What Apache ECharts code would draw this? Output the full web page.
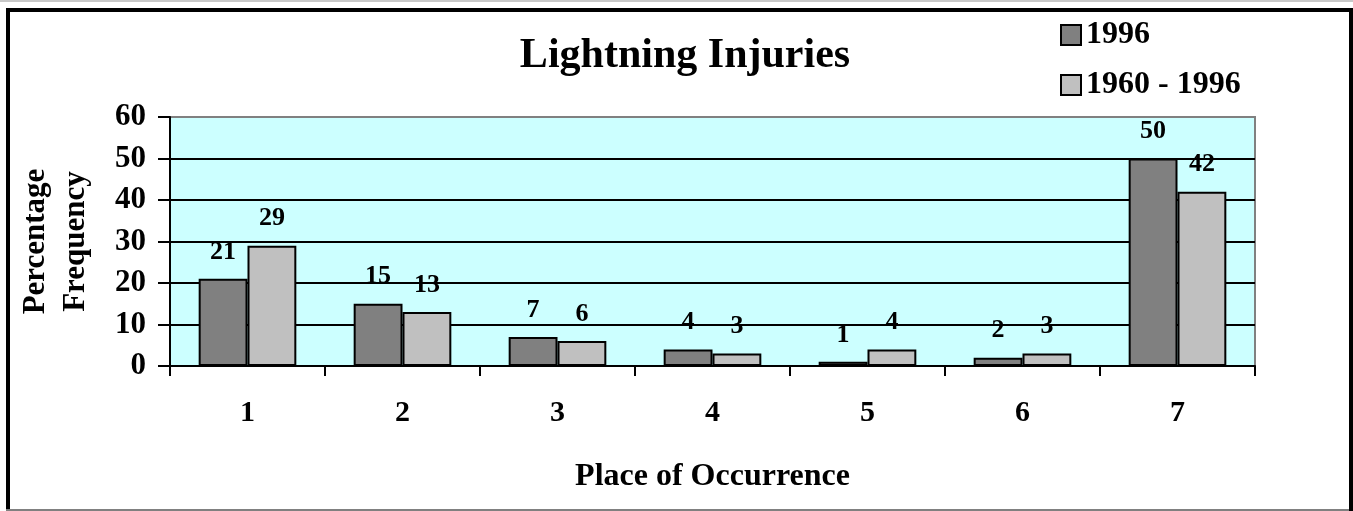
<!DOCTYPE html>
<html>
<head>
<meta charset="utf-8">
<script src="https://cdn.jsdelivr.net/npm/echarts@6/dist/echarts.min.js"></script>
<style>
html,body{margin:0;padding:0;background:#fff;}
#c{width:1353px;height:511px;}
</style>
</head>
<body>
<div id="c"></div>
<script>
const categories = ['1','2','3','4','5','6','7'];
const series1996 = [21, 15, 7, 4, 1, 2, 50];
const series1960_1996 = [29, 13, 6, 3, 4, 3, 42];
const seriesNames = ['1996', '1960 - 1996'];
const yTicks = {min: 0, max: 60, interval: 10};

const FONT = '"Liberation Serif", "Times New Roman", serif';
const chart = echarts.init(document.getElementById('c'));
const labelStyle = {show: true, position: 'top', distance: 14, color: '#000', fontFamily: FONT, fontWeight: 'bold', fontSize: 26};
chart.setOption({
  animation: false,
  backgroundColor: '#fff',
  title: {
    text: 'Lightning Injuries', left: 680, top: 30, textAlign: 'center',
    textStyle: {fontFamily: FONT, fontWeight: 'bold', fontSize: 42, color: '#000'}
  },
  legend: {
    orient: 'vertical', left: 1055, top: 14, itemWidth: 20, itemHeight: 20, itemGap: 18,
    icon: 'rect',
    textStyle: {fontFamily: FONT, fontWeight: 'bold', fontSize: 32, color: '#000', padding: [0, 0, 0, 0]},
    data: seriesNames
  },
  grid: {
    left: 170, right: 98, top: 117, bottom: 145, show: true, outerBoundsMode: 'none', containLabel: false,
    backgroundColor: '#CCFFFF', borderColor: '#808080', borderWidth: 2
  },
  xAxis: {
    type: 'category', data: categories,
    name: 'Place of Occurrence', nameLocation: 'middle', nameGap: 95,
    nameTextStyle: {fontFamily: FONT, fontWeight: 'bold', fontSize: 32, color: '#000'},
    axisLine: {lineStyle: {color: '#000', width: 2}},
    axisTick: {show: true, length: 10, lineStyle: {color: '#000', width: 2}},
    axisLabel: {margin: 32, fontFamily: FONT, fontWeight: 'bold', fontSize: 30, color: '#000'}
  },
  yAxis: {
    type: 'value', min: yTicks.min, max: yTicks.max, interval: yTicks.interval,
    name: 'Percentage\nFrequency', nameLocation: 'middle', nameGap: 74, nameRotate: 90,
    nameTextStyle: {fontFamily: FONT, fontWeight: 'bold', fontSize: 31, color: '#000', lineHeight: 40},
    axisLine: {show: true, lineStyle: {color: '#000', width: 2}},
    axisTick: {show: true, length: 12, lineStyle: {color: '#000', width: 2}},
    axisLabel: {margin: 24, fontFamily: FONT, fontWeight: 'bold', fontSize: 31, color: '#000'},
    splitLine: {show: true, lineStyle: {color: ['#000','#000','#000','#000','#000','#000','#808080'], width: 2}}
  },
  series: [
    {name: seriesNames[0], type: 'bar', data: series1996, barGap: '0%', barCategoryGap: '37%',
     itemStyle: {color: '#808080', borderColor: '#000', borderWidth: 2}, label: labelStyle},
    {name: seriesNames[1], type: 'bar', data: series1960_1996, barGap: '0%', barCategoryGap: '37%',
     itemStyle: {color: '#C0C0C0', borderColor: '#000', borderWidth: 2}, label: labelStyle}
  ],
  graphic: [
    {type: 'polyline', shape: {points: [[8, 512], [8, 10], [1351, 10], [1351, 512]]}, style: {stroke: '#000', lineWidth: 4, fill: null}, z: 100},
    {type: 'line', shape: {x1: 6, y1: 510, x2: 1349, y2: 510}, style: {stroke: '#808080', lineWidth: 2}, z: 100},
    {type: 'line', shape: {x1: 0, y1: 1, x2: 1353, y2: 1}, style: {stroke: '#c8c8c8', lineWidth: 2}, z: 100}
  ]
});
</script>
</body>
</html>
